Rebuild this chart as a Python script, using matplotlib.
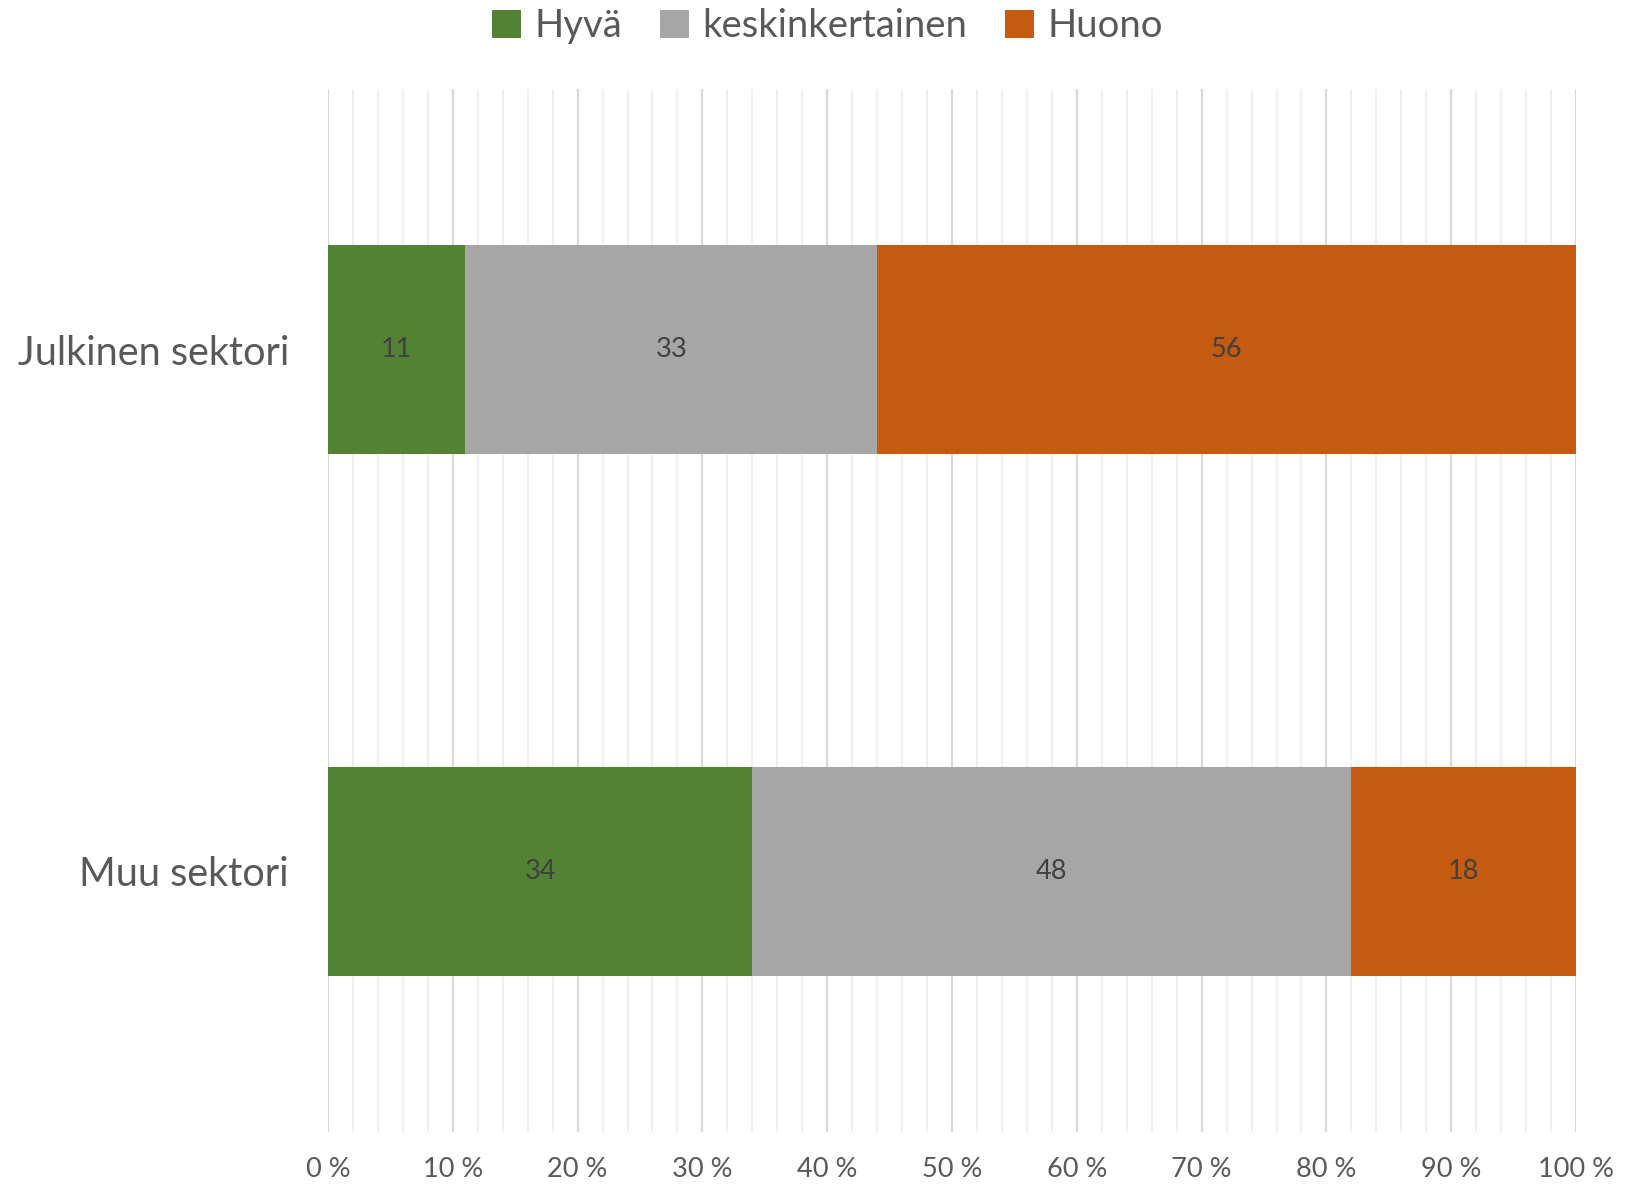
import numpy as np
import matplotlib.pyplot as plt
from matplotlib.ticker import MultipleLocator, FuncFormatter

## Data
categories = ["Julkinen sektori", "Muu sektori"]
series_names = ["Hyvä", "keskinkertainen", "Huono"]
hyva = [11, 34]
keski = [33, 48]
huono = [56, 18]

colors = ["#548235", "#a6a6a6", "#c55a11"]
text_col = "#595959"

plt.rcParams['font.family'] = ['Lato', 'DejaVu Sans']

fig = plt.figure(figsize=(16.39, 11.87), dpi=100)
ax = fig.add_axes([0.2001, 0.0463, 0.7615, 0.8787])

y = np.arange(len(categories))
left = np.zeros(len(categories))
for name, vals, col in zip(series_names, [hyva, keski, huono], colors):
    bars = ax.barh(y, vals, left=left, height=0.4, color=col, label=name, zorder=3)
    ax.bar_label(bars, labels=[str(v) for v in vals], label_type='center',
                 color="#404040", fontsize=19.5)
    left += np.array(vals)

ax.set_xlim(0, 100)
ax.set_ylim(1.5, -0.5)
ax.set_yticks(y)
ax.set_yticklabels(categories, fontsize=28.5, color=text_col)
ax.xaxis.set_major_locator(MultipleLocator(10))
ax.xaxis.set_minor_locator(MultipleLocator(2))
ax.xaxis.set_major_formatter(FuncFormatter(lambda v, p: "%d %%" % v))
ax.tick_params(axis='x', labelsize=19.5, colors=text_col, length=0, which='both', pad=18)
ax.tick_params(axis='y', length=0, pad=28)
ax.grid(axis='x', which='major', color="#d9d9d9", linewidth=1.6, zorder=0)
ax.grid(axis='x', which='minor', color="#f0f0f0", linewidth=1.6, zorder=0)
for s in ax.spines.values():
    s.set_visible(False)

leg = fig.legend(loc='upper center', bbox_to_anchor=(0.505, 1.022), ncol=3, frameon=False,
                 fontsize=27.5, handlelength=0.75, handleheight=0.75, handletextpad=0.35,
                 columnspacing=1.0, labelcolor=text_col)

fig.savefig("out.png", dpi=100)
